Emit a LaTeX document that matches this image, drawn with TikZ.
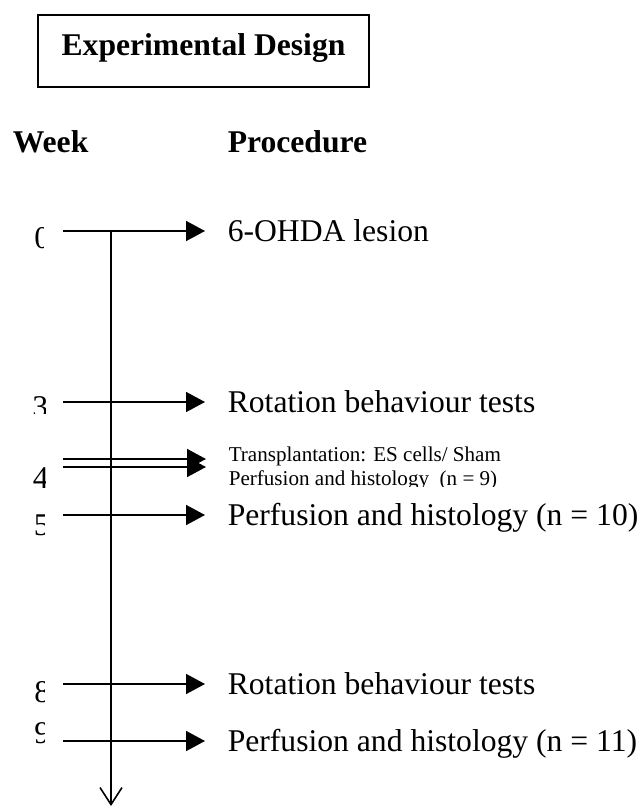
\documentclass[tikz,border=0pt]{standalone}
\usepackage{fontspec}
\setmainfont{Liberation Serif}
\usetikzlibrary{arrows.meta}

\begin{document}
\begin{tikzpicture}[
    line width=0.9pt,
    tick/.style={-{Triangle[length=0.38cm, width=0.40cm]}},
    timeline/.style={-{Straight Barb[length=0.34cm, width=0.44cm]}},
    heading/.style={anchor=base west, inner sep=0pt, font=\fontsize{18}{22}\selectfont\bfseries},
    proc/.style={anchor=west, inner xsep=0.44cm, inner ysep=0pt, text height=0.42cm,
                 text depth=0pt, font=\fontsize{18}{22}\selectfont},
    smallproc/.style={anchor=base west, inner xsep=0.44cm, inner ysep=0pt,
                 font=\fontsize{12}{14}\selectfont},
    week/.style={anchor=base west, inner sep=0pt, font=\fontsize{18}{22}\selectfont},
]

\useasboundingbox (0,0) rectangle (12.84,-16.16);

% === Title ===

\node[draw, line width=0.8pt, minimum width=6.62cm, minimum height=1.44cm,
      text height=0.45cm, text depth=0.29cm, inner sep=0pt,
      font=\fontsize{18}{22}\selectfont\bfseries] (title) at (4.07,-1.02) {Experimental Design};

\node[heading] (week-head) at (0.24,-3.04) {Week};
\node[heading] (proc-head) at (4.54,-3.04) {Procedure};

% === Time axis ===

\coordinate (top) at (2.22,-4.62);
\coordinate (bottom) at (2.22,-16.12);
\draw[timeline] (top) -- (bottom);

% Week numbers (cut off by their boxes)
\begin{scope}
    \clip (0.60,-4.40) rectangle (0.86,-5.05)
          (0.60,-7.80) rectangle (0.90,-8.26)
          (0.60,-9.20) rectangle (0.90,-9.90)
          (0.60,-10.20) rectangle (0.88,-10.90)
          (0.60,-13.50) rectangle (0.88,-14.20)
          (0.60,-14.30) rectangle (0.88,-15.00);
    \node[week] (wk0) at (0.67,-4.96) {0};
    \node[week] (wk3) at (0.63,-8.34) {3};
    \node[week] (wk4) at (0.64,-9.76) {4};
    \node[week] (wk5) at (0.66,-10.70) {5};
    \node[week] (wk8) at (0.67,-14.04) {8};
    \node[week] (wk9) at (0.67,-14.86) {9};
\end{scope}

% === Procedures ===

\coordinate (w0) at (1.26,-4.62);
\node[proc] (p0) at (4.10,-4.62) {6-OHDA lesion};
\draw[tick] (w0) -- (p0);

\coordinate (w3) at (1.26,-8.04);
\node[proc] (p3) at (4.10,-8.04) {Rotation behaviour tests};
\draw[tick] (w3) -- (p3);

% two events in week 4
\coordinate (w4a) at (1.26,-9.18);
\coordinate (w4b) at (1.26,-9.34);
\node[smallproc] (p4a) at (4.12,-9.22) {Transplantation: ES cells/ Sham};
\begin{scope}
    \clip (4.0,-9.30) rectangle (10.5,-9.73);
    \node[smallproc] (p4b) at (4.12,-9.70) {Perfusion and histology\ \ (n = 9)};
\end{scope}
\draw[tick] (w4a) -- (w4a -| p4a.west);
\draw[tick] (w4b) -- (w4b -| p4a.west);

\coordinate (w5) at (1.26,-10.30);
\node[proc] (p5) at (4.10,-10.30) {Perfusion and histology (n = 10)};
\draw[tick] (w5) -- (p5);

\coordinate (w8) at (1.26,-13.68);
\node[proc] (p8) at (4.10,-13.68) {Rotation behaviour tests};
\draw[tick] (w8) -- (p8);

\coordinate (w9) at (1.26,-14.82);
\node[proc] (p9) at (4.10,-14.82) {Perfusion and histology (n = 11)};
\draw[tick] (w9) -- (p9);

\end{tikzpicture}
\end{document}
